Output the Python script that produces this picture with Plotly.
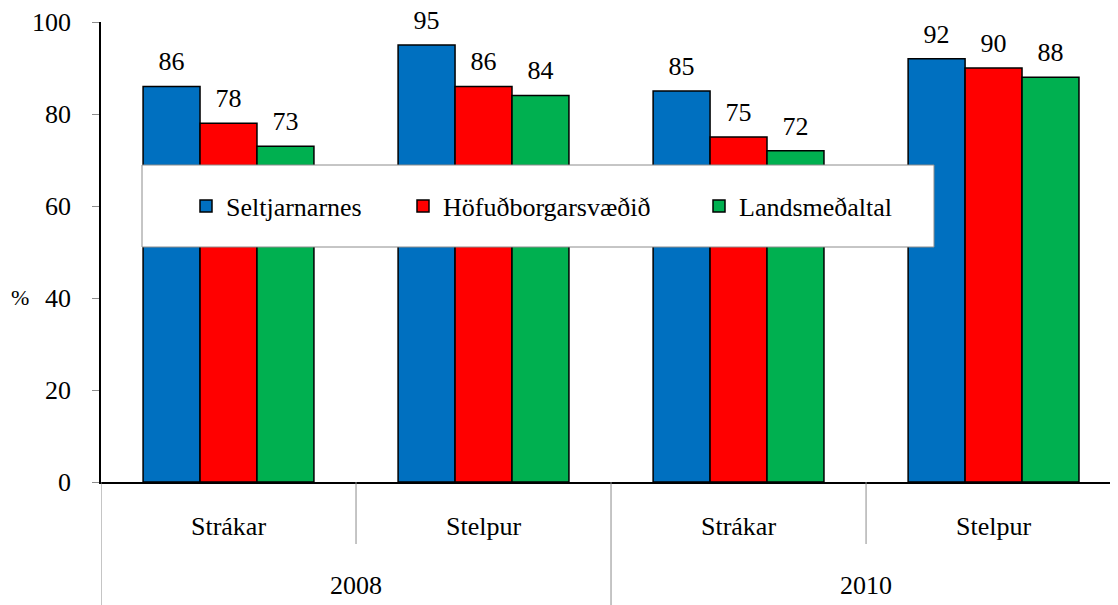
import plotly.graph_objects as go

YEARS = ["2008", "2008", "2010", "2010"]
GROUPS = ["Strákar", "Stelpur", "Strákar", "Stelpur"]
SELTJARNARNES = [86, 95, 85, 92]
HOFUDBORG = [78, 86, 75, 90]
LANDSMEDALTAL = [73, 84, 72, 88]
SERIES_NAMES = ["Seltjarnarnes", "Höfuðborgarsvæðið", "Landsmeðaltal"]
Y_TICKS = [0, 20, 40, 60, 80, 100]

COLORS = ["#0070C0", "#FF0000", "#00B050"]
FONT = "Liberation Serif"

# unique keys per bar group, shown with the group label only
keys = [f"{y} {g}" for y, g in zip(YEARS, GROUPS)]
series = [SELTJARNARNES, HOFUDBORG, LANDSMEDALTAL]

fig = go.Figure()
legends = ["legend", "legend2", "legend3"]
for i, (name, vals) in enumerate(zip(SERIES_NAMES, series)):
    fig.add_trace(go.Bar(
        x=keys, y=vals, name=name, offsetgroup=str(i),
        marker=dict(color=COLORS[i], line=dict(color="black", width=1.5)),
        legend=legends[i],
    ))
# value labels, grouped like the bars
for i, vals in enumerate(series):
    fig.add_trace(go.Scatter(
        x=keys, y=vals, mode="markers+text", text=[str(v) for v in vals],
        textposition="top center", offsetgroup=str(i),
        marker=dict(size=14, opacity=0),
        textfont=dict(family=FONT, size=26, color="black"),
        showlegend=False, hoverinfo="skip", cliponaxis=False,
    ))

# page has an 8px body margin; plot area on the page: x 101..1118, y 22..482
def px_x(p):
    return (p - 101) / 1017

def px_y(p):
    return (482 - p) / 460

shapes = [
    # legend frame covering the bars
    dict(type="rect", xref="paper", yref="paper", x0=px_x(142), x1=px_x(934),
         y0=px_y(247), y1=px_y(165), fillcolor="white",
         line=dict(color="#8c8c8c", width=1), layer="above"),
]
# category dividers below the axis
for xv, bottom in [(0.5, px_y(544)), (2.5, px_y(544)), (1.5, -0.3), (-0.5, -0.3)]:
    shapes.append(dict(type="line", xref="x", yref="paper", x0=xv, x1=xv,
                       y0=0, y1=bottom, line=dict(color="#8c8c8c", width=1)))

annotations = [
    dict(text="%", xref="paper", yref="paper", x=px_x(20), y=px_y(297),
         xanchor="center", yanchor="middle", showarrow=False,
         font=dict(family=FONT, size=22, color="black")),
]
for xv, yr in [(0.5, "2008"), (2.5, "2010")]:
    annotations.append(dict(text=yr, xref="x", yref="paper", x=xv, y=px_y(585),
                            showarrow=False, xanchor="center", yanchor="middle",
                            font=dict(family=FONT, size=26, color="black")))

legend_style = dict(orientation="h", bgcolor="rgba(0,0,0,0)", borderwidth=0,
                    yanchor="middle", y=px_y(206), xanchor="left",
                    font=dict(family=FONT, size=26, color="black"))

fig.update_layout(
    width=1110, height=597,
    margin=dict(l=93, r=0, t=14, b=123),
    paper_bgcolor="white", plot_bgcolor="white",
    font=dict(family=FONT, size=26, color="black"),
    barmode="group", bargap=0.33, bargroupgap=0,
    scattermode="group", scattergap=0.33,
    shapes=shapes, annotations=annotations,
    legend=dict(legend_style, x=px_x(186)),
    legend2=dict(legend_style, x=px_x(403)),
    legend3=dict(legend_style, x=px_x(699)),
)
fig.update_xaxes(
    range=[-0.5, 3.488], showline=True, linecolor="black", linewidth=1.5,
    tickvals=keys, ticktext=GROUPS, ticks="", ticklabelstandoff=20,
    tickfont=dict(family=FONT, size=26), showgrid=False, zeroline=False,
)
fig.update_yaxes(
    range=[0, 100], tickvals=Y_TICKS, showline=True, linecolor="black",
    linewidth=1.5, ticks="outside", ticklen=7, tickcolor="#8c8c8c",
    ticklabelstandoff=16, tickfont=dict(family=FONT, size=26),
    showgrid=False, zeroline=False,
)

fig.write_html("out.html")
